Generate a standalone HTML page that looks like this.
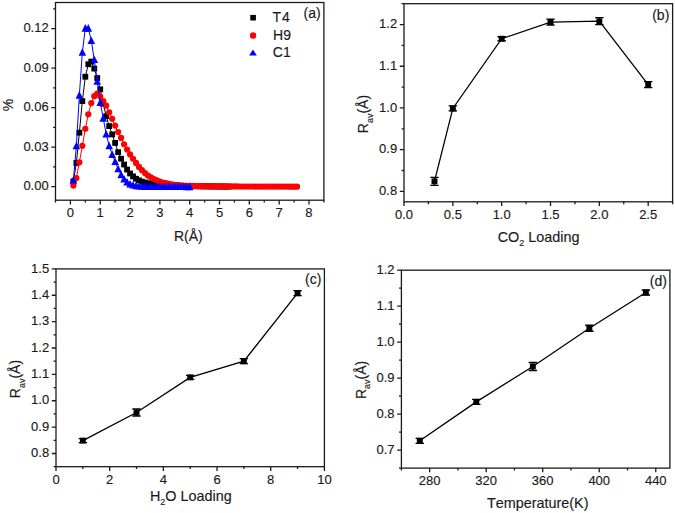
<!DOCTYPE html>
<html><head><meta charset="utf-8"><style>html,body{margin:0;padding:0;background:#fff;overflow:hidden}svg{display:block}text{font-kerning:none;stroke:#1a1a1a;stroke-width:0.15px;paint-order:stroke}</style></head>
<body><svg width="675" height="513" viewBox="0 0 675 513" font-family='"Liberation Sans", sans-serif' fill="#1a1a1a"><rect width="675" height="513" fill="#fff"/><polyline points="73.39,181.38 76.38,162.95 79.36,132.68 82.34,101.09 85.32,76.74 88.30,64.23 91.29,61.60 94.27,68.58 97.25,78.05 100.23,89.37 103.22,103.72 106.20,116.22 109.18,126.10 112.16,134.39 115.14,142.94 118.13,152.16 121.11,158.74 124.09,164.53 127.07,169.53 130.06,173.48 133.04,176.38 136.02,178.75 139.00,180.41 141.98,181.64 144.97,182.52 147.95,183.23 150.93,183.75 153.91,184.13 156.90,184.45 159.88,184.71 162.86,184.93 165.84,185.13 168.82,185.30 171.81,185.45 174.79,185.59 177.77,185.72 180.75,185.84 183.74,185.95 186.72,186.04 189.70,186.12 192.68,186.17 195.66,186.22 198.65,186.27 201.63,186.31 204.61,186.35 207.59,186.39 210.58,186.42 213.56,186.45 216.54,186.48 219.52,186.51 222.50,186.54 225.49,186.57 228.47,186.60" fill="none" stroke="#000" stroke-width="1"/><g fill="#000"><rect x="70.49" y="178.48" width="5.8" height="5.8"/><rect x="73.48" y="160.05" width="5.8" height="5.8"/><rect x="76.46" y="129.78" width="5.8" height="5.8"/><rect x="79.44" y="98.19" width="5.8" height="5.8"/><rect x="82.42" y="73.84" width="5.8" height="5.8"/><rect x="85.40" y="61.33" width="5.8" height="5.8"/><rect x="88.39" y="58.70" width="5.8" height="5.8"/><rect x="91.37" y="65.68" width="5.8" height="5.8"/><rect x="94.35" y="75.15" width="5.8" height="5.8"/><rect x="97.33" y="86.47" width="5.8" height="5.8"/><rect x="100.32" y="100.82" width="5.8" height="5.8"/><rect x="103.30" y="113.32" width="5.8" height="5.8"/><rect x="106.28" y="123.20" width="5.8" height="5.8"/><rect x="109.26" y="131.49" width="5.8" height="5.8"/><rect x="112.24" y="140.04" width="5.8" height="5.8"/><rect x="115.23" y="149.26" width="5.8" height="5.8"/><rect x="118.21" y="155.84" width="5.8" height="5.8"/><rect x="121.19" y="161.63" width="5.8" height="5.8"/><rect x="124.17" y="166.63" width="5.8" height="5.8"/><rect x="127.16" y="170.58" width="5.8" height="5.8"/><rect x="130.14" y="173.48" width="5.8" height="5.8"/><rect x="133.12" y="175.85" width="5.8" height="5.8"/><rect x="136.10" y="177.51" width="5.8" height="5.8"/><rect x="139.08" y="178.74" width="5.8" height="5.8"/><rect x="142.07" y="179.62" width="5.8" height="5.8"/><rect x="145.05" y="180.33" width="5.8" height="5.8"/><rect x="148.03" y="180.85" width="5.8" height="5.8"/><rect x="151.01" y="181.23" width="5.8" height="5.8"/><rect x="154.00" y="181.55" width="5.8" height="5.8"/><rect x="156.98" y="181.81" width="5.8" height="5.8"/><rect x="159.96" y="182.03" width="5.8" height="5.8"/><rect x="162.94" y="182.23" width="5.8" height="5.8"/><rect x="165.92" y="182.40" width="5.8" height="5.8"/><rect x="168.91" y="182.55" width="5.8" height="5.8"/><rect x="171.89" y="182.69" width="5.8" height="5.8"/><rect x="174.87" y="182.82" width="5.8" height="5.8"/><rect x="177.85" y="182.94" width="5.8" height="5.8"/><rect x="180.84" y="183.05" width="5.8" height="5.8"/><rect x="183.82" y="183.14" width="5.8" height="5.8"/><rect x="186.80" y="183.22" width="5.8" height="5.8"/><rect x="189.78" y="183.27" width="5.8" height="5.8"/><rect x="192.76" y="183.32" width="5.8" height="5.8"/><rect x="195.75" y="183.37" width="5.8" height="5.8"/><rect x="198.73" y="183.41" width="5.8" height="5.8"/><rect x="201.71" y="183.45" width="5.8" height="5.8"/><rect x="204.69" y="183.49" width="5.8" height="5.8"/><rect x="207.68" y="183.52" width="5.8" height="5.8"/><rect x="210.66" y="183.55" width="5.8" height="5.8"/><rect x="213.64" y="183.58" width="5.8" height="5.8"/><rect x="216.62" y="183.61" width="5.8" height="5.8"/><rect x="219.60" y="183.64" width="5.8" height="5.8"/><rect x="222.59" y="183.67" width="5.8" height="5.8"/><rect x="225.57" y="183.70" width="5.8" height="5.8"/></g><polyline points="73.39,185.59 76.38,178.09 79.36,162.29 82.34,145.84 85.32,128.73 88.30,114.25 91.29,103.06 94.27,96.22 97.25,93.72 100.23,96.61 103.22,101.09 106.20,105.69 109.18,112.27 112.16,118.86 115.14,125.57 118.13,132.02 121.11,137.94 124.09,144.26 127.07,149.52 130.06,154.39 133.04,158.74 136.02,162.95 139.00,166.90 141.98,170.19 144.97,173.09 147.95,175.59 150.93,177.44 153.91,179.01 156.90,180.45 159.88,181.64 162.86,182.52 165.84,183.22 168.82,183.85 171.81,184.39 174.79,184.80 177.77,185.09 180.75,185.35 183.74,185.57 186.72,185.74 189.70,185.85 192.68,185.94 195.66,186.02 198.65,186.09 201.63,186.15 204.61,186.20 207.59,186.25 210.58,186.29 213.56,186.33 216.54,186.36 219.52,186.38 222.50,186.40 225.49,186.42 228.47,186.43 231.45,186.45 234.43,186.46 237.42,186.47 240.40,186.48 243.38,186.49 246.36,186.50 249.34,186.51 252.33,186.52 255.31,186.53 258.29,186.54 261.27,186.55 264.26,186.56 267.24,186.57 270.22,186.58 273.20,186.59 276.18,186.60 279.17,186.60 282.15,186.61 285.13,186.62 288.11,186.62 291.10,186.63 294.08,186.64 297.06,186.64" fill="none" stroke="#f00" stroke-width="1"/><g fill="#f00"><circle cx="73.39" cy="185.59" r="3.1"/><circle cx="76.38" cy="178.09" r="3.1"/><circle cx="79.36" cy="162.29" r="3.1"/><circle cx="82.34" cy="145.84" r="3.1"/><circle cx="85.32" cy="128.73" r="3.1"/><circle cx="88.30" cy="114.25" r="3.1"/><circle cx="91.29" cy="103.06" r="3.1"/><circle cx="94.27" cy="96.22" r="3.1"/><circle cx="97.25" cy="93.72" r="3.1"/><circle cx="100.23" cy="96.61" r="3.1"/><circle cx="103.22" cy="101.09" r="3.1"/><circle cx="106.20" cy="105.69" r="3.1"/><circle cx="109.18" cy="112.27" r="3.1"/><circle cx="112.16" cy="118.86" r="3.1"/><circle cx="115.14" cy="125.57" r="3.1"/><circle cx="118.13" cy="132.02" r="3.1"/><circle cx="121.11" cy="137.94" r="3.1"/><circle cx="124.09" cy="144.26" r="3.1"/><circle cx="127.07" cy="149.52" r="3.1"/><circle cx="130.06" cy="154.39" r="3.1"/><circle cx="133.04" cy="158.74" r="3.1"/><circle cx="136.02" cy="162.95" r="3.1"/><circle cx="139.00" cy="166.90" r="3.1"/><circle cx="141.98" cy="170.19" r="3.1"/><circle cx="144.97" cy="173.09" r="3.1"/><circle cx="147.95" cy="175.59" r="3.1"/><circle cx="150.93" cy="177.44" r="3.1"/><circle cx="153.91" cy="179.01" r="3.1"/><circle cx="156.90" cy="180.45" r="3.1"/><circle cx="159.88" cy="181.64" r="3.1"/><circle cx="162.86" cy="182.52" r="3.1"/><circle cx="165.84" cy="183.22" r="3.1"/><circle cx="168.82" cy="183.85" r="3.1"/><circle cx="171.81" cy="184.39" r="3.1"/><circle cx="174.79" cy="184.80" r="3.1"/><circle cx="177.77" cy="185.09" r="3.1"/><circle cx="180.75" cy="185.35" r="3.1"/><circle cx="183.74" cy="185.57" r="3.1"/><circle cx="186.72" cy="185.74" r="3.1"/><circle cx="189.70" cy="185.85" r="3.1"/><circle cx="192.68" cy="185.94" r="3.1"/><circle cx="195.66" cy="186.02" r="3.1"/><circle cx="198.65" cy="186.09" r="3.1"/><circle cx="201.63" cy="186.15" r="3.1"/><circle cx="204.61" cy="186.20" r="3.1"/><circle cx="207.59" cy="186.25" r="3.1"/><circle cx="210.58" cy="186.29" r="3.1"/><circle cx="213.56" cy="186.33" r="3.1"/><circle cx="216.54" cy="186.36" r="3.1"/><circle cx="219.52" cy="186.38" r="3.1"/><circle cx="222.50" cy="186.40" r="3.1"/><circle cx="225.49" cy="186.42" r="3.1"/><circle cx="228.47" cy="186.43" r="3.1"/><circle cx="231.45" cy="186.45" r="3.1"/><circle cx="234.43" cy="186.46" r="3.1"/><circle cx="237.42" cy="186.47" r="3.1"/><circle cx="240.40" cy="186.48" r="3.1"/><circle cx="243.38" cy="186.49" r="3.1"/><circle cx="246.36" cy="186.50" r="3.1"/><circle cx="249.34" cy="186.51" r="3.1"/><circle cx="252.33" cy="186.52" r="3.1"/><circle cx="255.31" cy="186.53" r="3.1"/><circle cx="258.29" cy="186.54" r="3.1"/><circle cx="261.27" cy="186.55" r="3.1"/><circle cx="264.26" cy="186.56" r="3.1"/><circle cx="267.24" cy="186.57" r="3.1"/><circle cx="270.22" cy="186.58" r="3.1"/><circle cx="273.20" cy="186.59" r="3.1"/><circle cx="276.18" cy="186.60" r="3.1"/><circle cx="279.17" cy="186.60" r="3.1"/><circle cx="282.15" cy="186.61" r="3.1"/><circle cx="285.13" cy="186.62" r="3.1"/><circle cx="288.11" cy="186.62" r="3.1"/><circle cx="291.10" cy="186.63" r="3.1"/><circle cx="294.08" cy="186.64" r="3.1"/><circle cx="297.06" cy="186.64" r="3.1"/></g><polyline points="73.39,180.06 76.38,145.84 79.36,95.16 82.34,52.39 85.32,28.17 88.30,28.17 91.29,40.54 94.27,59.63 97.25,81.34 100.23,102.40 103.22,118.20 106.20,133.99 109.18,145.84 112.16,154.39 115.14,161.63 118.13,168.87 121.11,174.80 124.09,179.01 127.07,182.04 130.06,184.01 133.04,185.09 136.02,185.72 139.00,186.04 141.98,186.27 144.97,186.38 147.95,186.42 150.93,186.45 153.91,186.48 156.90,186.51 159.88,186.54 162.86,186.56 165.84,186.58 168.82,186.59 171.81,186.61 174.79,186.62 177.77,186.63 180.75,186.63 183.74,186.64 186.72,186.64 189.70,186.64" fill="none" stroke="#00f" stroke-width="1"/><g fill="#00f"><path d="M73.39 175.96L77.19 183.55H69.59Z"/><path d="M76.38 141.74L80.18 149.32H72.58Z"/><path d="M79.36 91.06L83.16 98.65H75.56Z"/><path d="M82.34 48.29L86.14 55.87H78.54Z"/><path d="M85.32 24.07L89.12 31.65H81.52Z"/><path d="M88.30 24.07L92.10 31.65H84.50Z"/><path d="M91.29 36.44L95.09 44.02H87.49Z"/><path d="M94.27 55.53L98.07 63.11H90.47Z"/><path d="M97.25 77.24L101.05 84.83H93.45Z"/><path d="M100.23 98.30L104.03 105.89H96.43Z"/><path d="M103.22 114.10L107.02 121.68H99.42Z"/><path d="M106.20 129.89L110.00 137.48H102.40Z"/><path d="M109.18 141.74L112.98 149.32H105.38Z"/><path d="M112.16 150.29L115.96 157.88H108.36Z"/><path d="M115.14 157.53L118.94 165.12H111.34Z"/><path d="M118.13 164.77L121.93 172.36H114.33Z"/><path d="M121.11 170.70L124.91 178.28H117.31Z"/><path d="M124.09 174.91L127.89 182.49H120.29Z"/><path d="M127.07 177.94L130.87 185.52H123.27Z"/><path d="M130.06 179.91L133.86 187.50H126.26Z"/><path d="M133.04 180.99L136.84 188.57H129.24Z"/><path d="M136.02 181.62L139.82 189.21H132.22Z"/><path d="M139.00 181.94L142.80 189.53H135.20Z"/><path d="M141.98 182.17L145.78 189.76H138.18Z"/><path d="M144.97 182.28L148.77 189.86H141.17Z"/><path d="M147.95 182.32L151.75 189.90H144.15Z"/><path d="M150.93 182.35L154.73 189.94H147.13Z"/><path d="M153.91 182.38L157.71 189.97H150.11Z"/><path d="M156.90 182.41L160.70 190.00H153.10Z"/><path d="M159.88 182.44L163.68 190.02H156.08Z"/><path d="M162.86 182.46L166.66 190.04H159.06Z"/><path d="M165.84 182.48L169.64 190.06H162.04Z"/><path d="M168.82 182.49L172.62 190.08H165.02Z"/><path d="M171.81 182.51L175.61 190.09H168.01Z"/><path d="M174.79 182.52L178.59 190.10H170.99Z"/><path d="M177.77 182.53L181.57 190.11H173.97Z"/><path d="M180.75 182.53L184.55 190.12H176.95Z"/><path d="M183.74 182.54L187.54 190.12H179.94Z"/><path d="M186.72 182.54L190.52 190.13H182.92Z"/><path d="M189.70 182.54L193.50 190.13H185.90Z"/></g><rect x="55.50" y="2.50" width="268.40" height="197.70" fill="none" stroke="#1a1a1a" stroke-width="1.3"/><path d="M70.41 200.20V204.40M100.23 200.20V204.40M130.06 200.20V204.40M159.88 200.20V204.40M189.70 200.20V204.40M219.52 200.20V204.40M249.34 200.20V204.40M279.17 200.20V204.40M308.99 200.20V204.40M55.50 200.20V202.60M85.32 200.20V202.60M115.14 200.20V202.60M144.97 200.20V202.60M174.79 200.20V202.60M204.61 200.20V202.60M234.43 200.20V202.60M264.26 200.20V202.60M294.08 200.20V202.60M323.90 200.20V202.60M55.50 186.64H51.30M55.50 147.16H51.30M55.50 107.67H51.30M55.50 68.18H51.30M55.50 28.69H51.30M55.50 166.90H53.10M55.50 127.41H53.10M55.50 87.92H53.10M55.50 48.44H53.10M55.50 8.95H53.10" stroke="#1a1a1a" stroke-width="1.3" fill="none"/><text x="70.41" y="217.20" text-anchor="middle" font-size="13">0</text><text x="100.23" y="217.20" text-anchor="middle" font-size="13">1</text><text x="130.06" y="217.20" text-anchor="middle" font-size="13">2</text><text x="159.88" y="217.20" text-anchor="middle" font-size="13">3</text><text x="189.70" y="217.20" text-anchor="middle" font-size="13">4</text><text x="219.52" y="217.20" text-anchor="middle" font-size="13">5</text><text x="249.34" y="217.20" text-anchor="middle" font-size="13">6</text><text x="279.17" y="217.20" text-anchor="middle" font-size="13">7</text><text x="308.99" y="217.20" text-anchor="middle" font-size="13">8</text><text x="48.70" y="190.24" text-anchor="end" font-size="13">0.00</text><text x="48.70" y="150.76" text-anchor="end" font-size="13">0.03</text><text x="48.70" y="111.27" text-anchor="end" font-size="13">0.06</text><text x="48.70" y="71.78" text-anchor="end" font-size="13">0.09</text><text x="48.70" y="32.29" text-anchor="end" font-size="13">0.12</text><rect x="250.3" y="14.9" width="5.6" height="5.6" fill="#000"/><circle cx="253.1" cy="35.5" r="3.2" fill="#f00"/><path d="M253 49.6L256.9 55.6H249.1Z" fill="#00f"/><text x="272.6" y="21.9" font-size="14">T<tspan dx="0.8">4</tspan></text><text x="273.1" y="39.8" font-size="14">H9</text><text x="272.8" y="57.4" font-size="14">C1</text><text x="303.6" y="17.6" font-size="14">(a)</text><text x="174" y="240.9" font-size="14">R(Å)</text><text transform="translate(12.8 111.3) rotate(-90)" font-size="14">%</text><rect x="404.00" y="3.70" width="268.60" height="198.10" fill="none" stroke="#1a1a1a" stroke-width="1.3"/><path d="M404.00 201.80V206.00M452.84 201.80V206.00M501.67 201.80V206.00M550.51 201.80V206.00M599.35 201.80V206.00M648.18 201.80V206.00M428.42 201.80V204.20M477.25 201.80V204.20M526.09 201.80V204.20M574.93 201.80V204.20M623.76 201.80V204.20M672.60 201.80V204.20M404.00 191.37H399.80M404.00 149.67H399.80M404.00 107.96H399.80M404.00 66.26H399.80M404.00 24.55H399.80M404.00 170.52H401.60M404.00 128.82H401.60M404.00 87.11H401.60M404.00 45.41H401.60M404.00 3.70H401.60" stroke="#1a1a1a" stroke-width="1.3" fill="none"/><text x="404.00" y="218.80" text-anchor="middle" font-size="13">0.0</text><text x="452.84" y="218.80" text-anchor="middle" font-size="13">0.5</text><text x="501.67" y="218.80" text-anchor="middle" font-size="13">1.0</text><text x="550.51" y="218.80" text-anchor="middle" font-size="13">1.5</text><text x="599.35" y="218.80" text-anchor="middle" font-size="13">2.0</text><text x="648.18" y="218.80" text-anchor="middle" font-size="13">2.5</text><text x="397.20" y="194.97" text-anchor="end" font-size="13">0.8</text><text x="397.20" y="153.27" text-anchor="end" font-size="13">0.9</text><text x="397.20" y="111.56" text-anchor="end" font-size="13">1.0</text><text x="397.20" y="69.86" text-anchor="end" font-size="13">1.1</text><text x="397.20" y="28.15" text-anchor="end" font-size="13">1.2</text><polyline points="434.47,181.36 452.84,108.46 501.67,38.73 550.51,22.05 599.35,21.22 648.18,84.61" fill="none" stroke="#000" stroke-width="1.3"/><path d="M434.47 177.36V185.36M430.27 177.36H438.67M430.27 185.36H438.67" stroke="#000" stroke-width="1.3"/><rect x="431.52" y="178.41" width="5.90" height="5.90" fill="#000"/><path d="M452.84 105.96V110.96M448.64 105.96H457.04M448.64 110.96H457.04" stroke="#000" stroke-width="1.3"/><rect x="449.89" y="105.51" width="5.90" height="5.90" fill="#000"/><path d="M501.67 36.73V40.73M497.47 36.73H505.87M497.47 40.73H505.87" stroke="#000" stroke-width="1.3"/><rect x="498.72" y="35.78" width="5.90" height="5.90" fill="#000"/><path d="M550.51 19.05V25.05M546.31 19.05H554.71M546.31 25.05H554.71" stroke="#000" stroke-width="1.3"/><rect x="547.56" y="19.10" width="5.90" height="5.90" fill="#000"/><path d="M599.35 17.72V24.72M595.15 17.72H603.55M595.15 24.72H603.55" stroke="#000" stroke-width="1.3"/><rect x="596.40" y="18.27" width="5.90" height="5.90" fill="#000"/><path d="M648.18 81.61V87.61M643.98 81.61H652.38M643.98 87.61H652.38" stroke="#000" stroke-width="1.3"/><rect x="645.23" y="81.66" width="5.90" height="5.90" fill="#000"/><text x="652.2" y="19.5" font-size="14">(b)</text><text x="497.7" y="241.9" font-size="14.4">CO<tspan font-size="9" dy="4.5">2</tspan><tspan dy="-4.5"> Loading</tspan></text><text transform="translate(368.2 133.2) rotate(-90)" font-size="14">R<tspan font-size="9" dy="4.5">av</tspan><tspan dy="-4.5">(Å)</tspan></text><rect x="56.00" y="268.90" width="268.40" height="197.80" fill="none" stroke="#1a1a1a" stroke-width="1.3"/><path d="M56.00 466.70V470.90M109.68 466.70V470.90M163.36 466.70V470.90M217.04 466.70V470.90M270.72 466.70V470.90M324.40 466.70V470.90M82.84 466.70V469.10M136.52 466.70V469.10M190.20 466.70V469.10M243.88 466.70V469.10M297.56 466.70V469.10M56.00 453.51H51.80M56.00 427.14H51.80M56.00 400.77H51.80M56.00 374.39H51.80M56.00 348.02H51.80M56.00 321.65H51.80M56.00 295.27H51.80M56.00 268.90H51.80M56.00 466.70H53.60M56.00 440.33H53.60M56.00 413.95H53.60M56.00 387.58H53.60M56.00 361.21H53.60M56.00 334.83H53.60M56.00 308.46H53.60M56.00 282.09H53.60" stroke="#1a1a1a" stroke-width="1.3" fill="none"/><text x="56.00" y="483.70" text-anchor="middle" font-size="13">0</text><text x="109.68" y="483.70" text-anchor="middle" font-size="13">2</text><text x="163.36" y="483.70" text-anchor="middle" font-size="13">4</text><text x="217.04" y="483.70" text-anchor="middle" font-size="13">6</text><text x="270.72" y="483.70" text-anchor="middle" font-size="13">8</text><text x="324.40" y="483.70" text-anchor="middle" font-size="13">10</text><text x="49.20" y="457.11" text-anchor="end" font-size="13">0.8</text><text x="49.20" y="430.74" text-anchor="end" font-size="13">0.9</text><text x="49.20" y="404.37" text-anchor="end" font-size="13">1.0</text><text x="49.20" y="377.99" text-anchor="end" font-size="13">1.1</text><text x="49.20" y="351.62" text-anchor="end" font-size="13">1.2</text><text x="49.20" y="325.25" text-anchor="end" font-size="13">1.3</text><text x="49.20" y="298.87" text-anchor="end" font-size="13">1.4</text><text x="49.20" y="272.50" text-anchor="end" font-size="13">1.5</text><polyline points="82.84,440.59 136.52,412.50 190.20,377.40 243.88,361.21 297.56,293.16" fill="none" stroke="#000" stroke-width="1.3"/><path d="M82.84 438.59V442.59M78.64 438.59H87.04M78.64 442.59H87.04" stroke="#000" stroke-width="1.3"/><rect x="79.89" y="437.64" width="5.90" height="5.90" fill="#000"/><path d="M136.52 409.00V416.00M132.32 409.00H140.72M132.32 416.00H140.72" stroke="#000" stroke-width="1.3"/><rect x="133.57" y="409.55" width="5.90" height="5.90" fill="#000"/><path d="M190.20 375.40V379.40M186.00 375.40H194.40M186.00 379.40H194.40" stroke="#000" stroke-width="1.3"/><rect x="187.25" y="374.45" width="5.90" height="5.90" fill="#000"/><path d="M243.88 358.71V363.71M239.68 358.71H248.08M239.68 363.71H248.08" stroke="#000" stroke-width="1.3"/><rect x="240.93" y="358.26" width="5.90" height="5.90" fill="#000"/><path d="M297.56 290.66V295.66M293.36 290.66H301.76M293.36 295.66H301.76" stroke="#000" stroke-width="1.3"/><rect x="294.61" y="290.21" width="5.90" height="5.90" fill="#000"/><text x="305" y="284.3" font-size="14">(c)</text><text x="149.9" y="500.6" font-size="14.4">H<tspan font-size="9" dy="4.5">2</tspan><tspan dy="-4.5">O Loading</tspan></text><text transform="translate(20.3 398.2) rotate(-90)" font-size="14">R<tspan font-size="9" dy="4.5">av</tspan><tspan dy="-4.5">(Å)</tspan></text><rect x="401.40" y="270.20" width="268.50" height="197.90" fill="none" stroke="#1a1a1a" stroke-width="1.3"/><path d="M429.66 468.10V472.30M486.19 468.10V472.30M542.72 468.10V472.30M599.24 468.10V472.30M655.77 468.10V472.30M401.40 468.10V470.50M457.93 468.10V470.50M514.45 468.10V470.50M570.98 468.10V470.50M627.51 468.10V470.50M401.40 450.11H397.20M401.40 414.13H397.20M401.40 378.15H397.20M401.40 342.16H397.20M401.40 306.18H397.20M401.40 270.20H397.20M401.40 468.10H399.00M401.40 432.12H399.00M401.40 396.14H399.00M401.40 360.15H399.00M401.40 324.17H399.00M401.40 288.19H399.00" stroke="#1a1a1a" stroke-width="1.3" fill="none"/><text x="429.66" y="485.10" text-anchor="middle" font-size="13">280</text><text x="486.19" y="485.10" text-anchor="middle" font-size="13">320</text><text x="542.72" y="485.10" text-anchor="middle" font-size="13">360</text><text x="599.24" y="485.10" text-anchor="middle" font-size="13">400</text><text x="655.77" y="485.10" text-anchor="middle" font-size="13">440</text><text x="394.60" y="453.71" text-anchor="end" font-size="13">0.7</text><text x="394.60" y="417.73" text-anchor="end" font-size="13">0.8</text><text x="394.60" y="381.75" text-anchor="end" font-size="13">0.9</text><text x="394.60" y="345.76" text-anchor="end" font-size="13">1.0</text><text x="394.60" y="309.78" text-anchor="end" font-size="13">1.1</text><text x="394.60" y="273.80" text-anchor="end" font-size="13">1.2</text><polyline points="419.77,440.79 476.30,401.89 532.82,366.49 589.35,328.27 645.88,292.51" fill="none" stroke="#000" stroke-width="1.3"/><path d="M419.77 438.29V443.29M415.57 438.29H423.97M415.57 443.29H423.97" stroke="#000" stroke-width="1.3"/><rect x="416.82" y="437.84" width="5.90" height="5.90" fill="#000"/><path d="M476.30 399.39V404.39M472.10 399.39H480.50M472.10 404.39H480.50" stroke="#000" stroke-width="1.3"/><rect x="473.35" y="398.94" width="5.90" height="5.90" fill="#000"/><path d="M532.82 362.49V370.49M528.62 362.49H537.02M528.62 370.49H537.02" stroke="#000" stroke-width="1.3"/><rect x="529.87" y="363.54" width="5.90" height="5.90" fill="#000"/><path d="M589.35 325.27V331.27M585.15 325.27H593.55M585.15 331.27H593.55" stroke="#000" stroke-width="1.3"/><rect x="586.40" y="325.32" width="5.90" height="5.90" fill="#000"/><path d="M645.88 290.01V295.01M641.68 290.01H650.08M641.68 295.01H650.08" stroke="#000" stroke-width="1.3"/><rect x="642.93" y="289.56" width="5.90" height="5.90" fill="#000"/><text x="649.8" y="286" font-size="14">(d)</text><text x="486.9" y="507.7" font-size="14.4">Temperature(K)</text><text transform="translate(365.8 399.1) rotate(-90)" font-size="14">R<tspan font-size="9" dy="4.5">av</tspan><tspan dy="-4.5">(Å)</tspan></text></svg></body></html>
